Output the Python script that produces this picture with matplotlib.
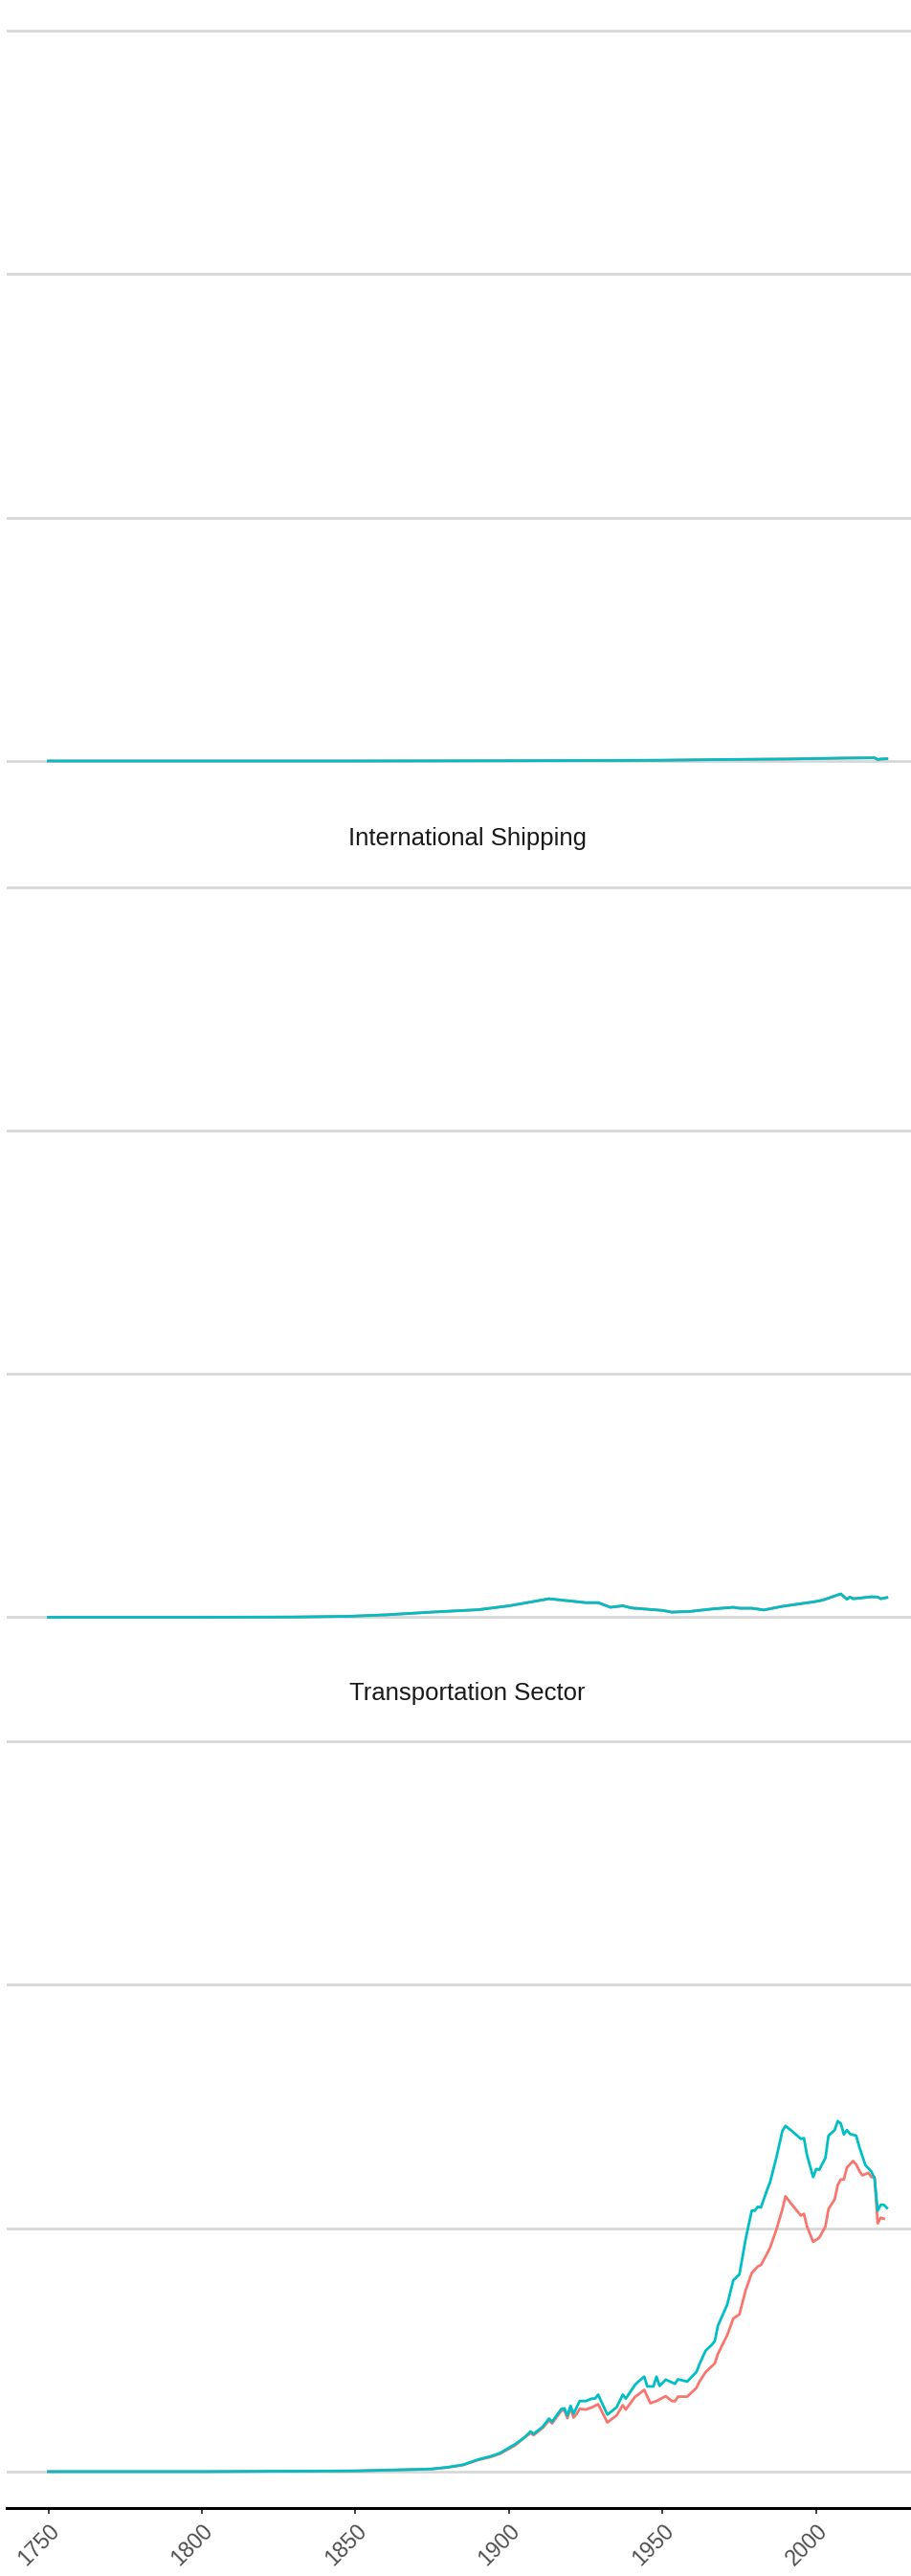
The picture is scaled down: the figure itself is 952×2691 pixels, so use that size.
import matplotlib.pyplot as plt

plt.rcParams['font.family'] = ['Liberation Sans', 'DejaVu Sans']

# colours of the two series (ggplot default hues)
RED = '#F8766D'
TEAL = '#00BFC4'

# top panel (title cut off) - both series on top of each other
top_years = [1750, 1800, 1850, 1900, 1930, 1950, 1970, 1990, 2000, 2010, 2019, 2020, 2021, 2023]
top_red = [0, 0, 0, 0.001, 0.002, 0.003, 0.006, 0.008, 0.010, 0.012, 0.013, 0.006, 0.008, 0.009]
top_teal = [0, 0, 0, 0.001, 0.002, 0.003, 0.006, 0.008, 0.010, 0.012, 0.013, 0.006, 0.008, 0.009]

# International Shipping
ship_years = [1750, 1800, 1830, 1848, 1860, 1876, 1890, 1900, 1913, 1925, 1929, 1933,
              1937, 1940, 1950, 1953, 1959, 1966, 1973, 1975, 1979, 1983, 1989, 1994,
              1999, 2002, 2005, 2008, 2010, 2011, 2012, 2018, 2020, 2021, 2023]
ship_teal = [0, 0, 0.001, 0.004, 0.010, 0.022, 0.031, 0.047, 0.076, 0.060, 0.060, 0.041,
             0.047, 0.038, 0.028, 0.021, 0.024, 0.034, 0.041, 0.037, 0.037, 0.030, 0.045,
             0.054, 0.063, 0.070, 0.083, 0.096, 0.074, 0.083, 0.076, 0.084, 0.083, 0.076, 0.081]
ship_red = ship_teal

# Transportation Sector
trans_years_teal = [1750, 1800, 1850, 1860, 1870, 1875, 1880, 1885, 1890, 1894, 1897, 1902, 1905,
                    1907, 1908, 1911, 1913, 1914, 1917, 1918, 1919, 1920, 1921, 1923, 1925,
                    1927, 1928, 1929, 1932, 1935, 1937, 1938, 1941, 1942, 1944, 1945, 1947,
                    1948, 1949, 1951, 1954, 1955, 1958, 1961, 1962, 1964, 1966, 1967, 1968,
                    1971, 1973, 1975, 1977, 1979, 1980, 1981, 1982, 1984, 1985, 1987, 1989,
                    1990, 1992, 1995, 1996, 1997, 1999, 2000, 2001, 2003, 2004, 2006, 2007,
                    2008, 2009, 2010, 2011, 2013, 2014, 2016, 2018, 2019, 2020, 2021, 2022, 2023]
trans_teal = [0, 0, 0.003, 0.006, 0.009, 0.011, 0.018, 0.028, 0.050, 0.063, 0.076, 0.113, 0.140,
              0.165, 0.155, 0.185, 0.218, 0.205, 0.257, 0.260, 0.230, 0.270, 0.238, 0.290, 0.290,
              0.300, 0.300, 0.316, 0.234, 0.264, 0.316, 0.300, 0.356, 0.369, 0.390, 0.350, 0.350,
              0.390, 0.352, 0.378, 0.361, 0.379, 0.370, 0.409, 0.442, 0.497, 0.521, 0.537, 0.600,
              0.685, 0.786, 0.810, 0.954, 1.072, 1.072, 1.088, 1.085, 1.157, 1.190, 1.289, 1.400,
              1.420, 1.400, 1.367, 1.370, 1.300, 1.210, 1.243, 1.240, 1.289, 1.380, 1.403, 1.440,
              1.430, 1.385, 1.403, 1.387, 1.380, 1.335, 1.259, 1.232, 1.203, 1.072, 1.096, 1.096, 1.083]

trans_years_red = [1750, 1800, 1850, 1860, 1870, 1875, 1880, 1885, 1890, 1894, 1897, 1902, 1905,
                   1907, 1908, 1911, 1913, 1914, 1917, 1918, 1919, 1920, 1921, 1922, 1923,
                   1925, 1927, 1929, 1932, 1935, 1937, 1938, 1941, 1942, 1944, 1946, 1948,
                   1951, 1953, 1954, 1955, 1958, 1961, 1962, 1964, 1967, 1968, 1971, 1973,
                   1975, 1977, 1979, 1981, 1982, 1984, 1985, 1987, 1989, 1990, 1992, 1995,
                   1996, 1997, 1999, 2001, 2003, 2004, 2006, 2007, 2008, 2009, 2010, 2012,
                   2013, 2014, 2015, 2017, 2018, 2019, 2020, 2021, 2022]
trans_red = [0, 0, 0.003, 0.006, 0.009, 0.011, 0.017, 0.027, 0.048, 0.060, 0.073, 0.108, 0.140,
             0.158, 0.150, 0.180, 0.210, 0.198, 0.250, 0.252, 0.220, 0.262, 0.222, 0.237, 0.258,
             0.255, 0.264, 0.277, 0.202, 0.231, 0.273, 0.255, 0.307, 0.316, 0.336, 0.281, 0.290,
             0.310, 0.290, 0.289, 0.308, 0.308, 0.344, 0.370, 0.409, 0.445, 0.484, 0.560, 0.629,
             0.646, 0.744, 0.816, 0.843, 0.849, 0.895, 0.921, 0.993, 1.079, 1.131, 1.098, 1.052,
             1.059, 1.007, 0.944, 0.961, 1.007, 1.079, 1.118, 1.177, 1.200, 1.200, 1.249, 1.276,
             1.262, 1.236, 1.217, 1.227, 1.210, 1.210, 1.020, 1.043, 1.039]

panel_titles = [None, 'International Shipping', 'Transportation Sector']
x_ticks = [1750, 1800, 1850, 1900, 1950, 2000]

W, H = 953, 2691
fig = plt.figure(figsize=(W / 100, H / 100), dpi=100)

unit = 254.3                     # pixels between gridlines
panel_h = 3.3 * unit
left_px, right_px = 6.7, 970.6
bottoms = [833.1, 1727.6, 2620.1]  # pixel position of panel bottoms (from top)

data = [(top_years, top_red, top_years, top_teal),
        (ship_years, ship_red, ship_years, ship_teal),
        (trans_years_red, trans_red, trans_years_teal, trans_teal)]

axes = []
for i, bottom in enumerate(bottoms):
    ax = fig.add_axes([left_px / W, 1 - bottom / H, (right_px - left_px) / W, panel_h / H])
    yr, r, yt, t = data[i]
    ax.plot(yr, r, color=RED, lw=2.0, solid_joinstyle='round')
    ax.plot(yt, t, color=TEAL, lw=2.0, solid_joinstyle='round')

    ax.set_xlim(1736.35, 2036.65)
    ax.set_ylim(-0.15, 3.15)
    ax.set_yticks([0, 1, 2, 3])
    ax.grid(axis='y', color='#d6d6d6', lw=1.9)
    ax.grid(axis='x', visible=False)
    ax.set_axisbelow(True)
    ax.tick_params(left=False, labelleft=False)
    for s in ax.spines.values():
        s.set_visible(False)

    if panel_titles[i]:
        ax.set_title(panel_titles[i], fontsize=18.5, pad=-1, color='#1a1a1a')
    axes.append(ax)

for ax in axes[:-1]:
    ax.tick_params(bottom=False, labelbottom=False)

ax = axes[-1]
ax.spines['bottom'].set_visible(True)
ax.spines['bottom'].set_color('black')
ax.spines['bottom'].set_linewidth(2.2)
ax.set_xticks(x_ticks)
ax.set_xticklabels([str(x) for x in x_ticks], rotation=45, ha='right',
                   rotation_mode='anchor', fontsize=16.5, color='#4d4d4d')
ax.tick_params(axis='x', length=4.5, width=1.3, color='#333333', pad=4)

fig.savefig('out.png', dpi=100, facecolor='white')
